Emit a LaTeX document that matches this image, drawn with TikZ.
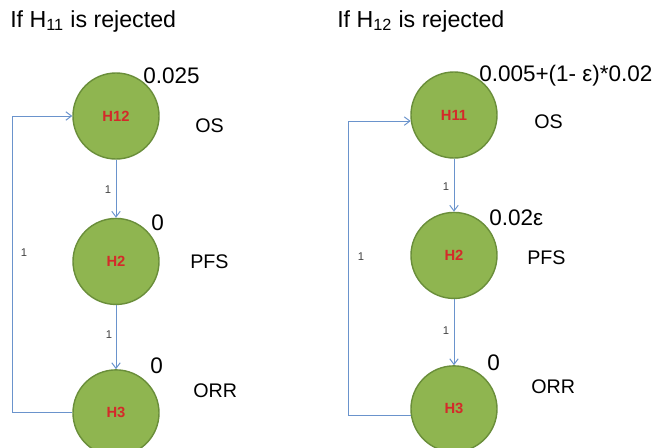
\documentclass[tikz,border=0pt]{standalone}
\usepackage{fontspec}
\setmainfont{Liberation Sans}
\usetikzlibrary{arrows.meta,positioning}
\definecolor{hypfill}{HTML}{8FB550}
\definecolor{hypline}{HTML}{6A8E3A}
\definecolor{hypred}{HTML}{D42A2A}
\definecolor{flowblue}{HTML}{6A93CC}

\begin{document}
\begin{tikzpicture}[x=0.025cm, y=-0.025cm, >={Straight Barb[length=4pt,width=6pt]},
  hyp/.style={circle, draw=hypline, line width=1pt, fill=hypfill, minimum size=2.15cm,
    inner sep=0pt, font=\fontsize{10.5}{12}\selectfont\bfseries, text=hypred},
  flow/.style={->, draw=flowblue, line width=0.7pt},
  wt/.style={font=\fontsize{8}{10}\selectfont, text=black!75, inner sep=0pt},
  prob/.style={anchor=base west, inner sep=0pt, font=\fontsize{16}{19}\selectfont},
  endpt/.style={anchor=base west, inner sep=0pt, font=\fontsize{14}{17}\selectfont},
  ttl/.style={anchor=base west, inner sep=0pt, font=\fontsize{16.5}{19}\selectfont}]
  \clip (0,0) rectangle (660,448);
  \useasboundingbox (0,0) rectangle (660,448);

  % left: H11 rejected
  \node[ttl] (tl) at (10,27) {If H\textsubscript{11} is rejected};
  \node[hyp] (la) at (116,116) {H12};
  \node[hyp, below=1.45cm of la] (lb) {H2};
  \node[hyp, below=1.6cm of lb] (lc) {H3};
  \coordinate (lloop) at (12,410);
  \draw[flow] (la) -- (lb);
  \draw[flow] (lb) -- (lc);
  \draw[flow] (lc.west) -- (lc.west -| lloop) |- (la.west);
  \node[wt] (lw1) at (108,190) {1};
  \node[wt] (lw2) at (109,335) {1};
  \node[wt] (lw3) at (24,253) {1};
  \node[prob] (lpa) at (143,83) {0.025};
  \node[prob] (lpb) at (151,230) {0};
  \node[prob] (lpc) at (150,373) {0};
  \node[endpt] (lea) at (195,132) {OS};
  \node[endpt] (leb) at (190,268) {PFS};
  \node[endpt] (lec) at (193,397) {ORR};

  % right: H12 rejected
  \node[ttl] (tr) at (337,27) {If H\textsubscript{12} is rejected};
  \node[hyp] (ra) at (454,115) {H11};
  \node[hyp, below=1.325cm of ra] (rb) {H2};
  \node[hyp, below=1.65cm of rb] (rc) {H3};
  \coordinate (rloop) at (348,410);
  \draw[flow] (ra) -- (rb);
  \draw[flow] (rb) -- (rc);
  \draw[flow] (rc.189) -- (rc.189 -| rloop) |- (ra.188);
  \node[wt] (rw1) at (446,187) {1};
  \node[wt] (rw2) at (446,331) {1};
  \node[wt] (rw3) at (361,257) {1};
  \node[prob] (rpa) at (479,81) {0.005+(1- ε)*0.02};
  \node[prob] (rpb) at (489,225) {0.02ε};
  \node[prob] (rpc) at (487,370) {0};
  \node[endpt] (rea) at (534,128) {OS};
  \node[endpt] (reb) at (527,264) {PFS};
  \node[endpt] (rec) at (531,393) {ORR};
\end{tikzpicture}
\end{document}
